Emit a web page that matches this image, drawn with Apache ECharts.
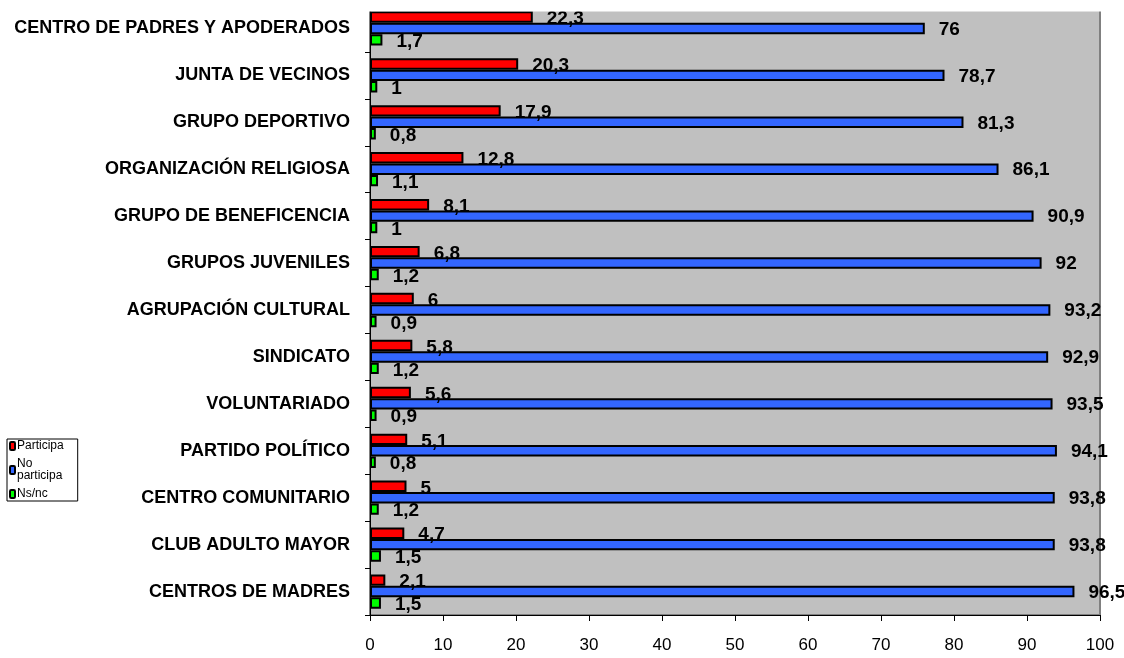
<!DOCTYPE html>
<html>
<head>
<meta charset="utf-8">
<script src="https://cdn.jsdelivr.net/npm/echarts@6/dist/echarts.min.js"></script>
<style>
  html, body { margin: 0; padding: 0; background: #fff; }
  #chart { width: 1124px; height: 658px; }
</style>
</head>
<body>
<div id="chart"></div>
<script>
var categories = [
  'CENTRO DE PADRES Y APODERADOS', 'JUNTA DE VECINOS', 'GRUPO DEPORTIVO',
  'ORGANIZACIÓN RELIGIOSA', 'GRUPO DE BENEFICENCIA', 'GRUPOS JUVENILES',
  'AGRUPACIÓN CULTURAL', 'SINDICATO', 'VOLUNTARIADO', 'PARTIDO POLÍTICO',
  'CENTRO COMUNITARIO', 'CLUB ADULTO MAYOR', 'CENTROS DE MADRES'
];
var participa = [22.3, 20.3, 17.9, 12.8, 8.1, 6.8, 6, 5.8, 5.6, 5.1, 5, 4.7, 2.1];
var noParticipa = [76, 78.7, 81.3, 86.1, 90.9, 92, 93.2, 92.9, 93.5, 94.1, 93.8, 93.8, 96.5];
var nsnc = [1.7, 1, 0.8, 1.1, 1, 1.2, 0.9, 1.2, 0.9, 0.8, 1.2, 1.5, 1.5];
var xTicks = [0, 100, 10]; // min, max, interval

var chart = echarts.init(document.getElementById('chart'));

function barLabel(dy) {
  return {
    show: true,
    position: 'right',
    distance: 14,
    offset: [0, dy],
    color: '#000',
    fontFamily: 'Liberation Sans',
    fontWeight: 'bold',
    fontSize: 19,
    formatter: function (p) { return String(p.value).replace('.', ','); }
  };
}

function makeSeries(name, data, color, dy) {
  return {
    name: name,
    type: 'bar',
    data: data,
    barGap: '0%',
    barCategoryGap: '27%',
    itemStyle: { color: color, borderColor: '#000', borderWidth: 2 },
    label: barLabel(dy)
  };
}

chart.setOption({
  animation: false,
  textStyle: { fontFamily: 'Liberation Sans' },
  grid: {
    left: 370, right: 24, top: 5, bottom: 43,
    show: true,
    backgroundColor: '#c0c0c0',
    borderColor: '#808080',
    borderWidth: 2
  },
  // the top category band runs past the plot frame; mask it like the original
  graphic: [{
    type: 'rect',
    z: 100,
    shape: { x: 355, y: 0, width: 760, height: 11.5 },
    style: { fill: '#fff' }
  }],
  legend: {
    orient: 'vertical',
    left: 7,
    top: 439,
    itemWidth: 5,
    itemHeight: 8,
    itemGap: 6,
    padding: [1, 14, 1, 2],
    borderColor: '#000',
    borderWidth: 1,
    textStyle: { fontSize: 12, lineHeight: 12, color: '#000', padding: [0, 0, 0, -3] },
    formatter: function (n) { return n === 'No participa' ? 'No\nparticipa' : n; },
    data: ['Participa', 'No participa', 'Ns/nc']
  },
  xAxis: {
    type: 'value',
    min: xTicks[0],
    max: xTicks[1],
    interval: xTicks[2],
    splitLine: { show: false },
    axisLine: { show: true, lineStyle: { color: '#000' } },
    axisTick: { show: true, length: 6, lineStyle: { color: '#000' } },
    axisLabel: { color: '#000', fontSize: 17, margin: 22 }
  },
  yAxis: {
    type: 'category',
    inverse: true,
    data: categories,
    axisLine: { show: true, lineStyle: { color: '#000' } },
    axisTick: { show: true, length: 5, lineStyle: { color: '#000' } },
    axisLabel: { color: '#000', fontSize: 18, fontWeight: 'bold', margin: 20 }
  },
  series: [
    makeSeries('Participa', participa, '#ff0000', 2),
    makeSeries('No participa', noParticipa, '#3366ff', 1),
    makeSeries('Ns/nc', nsnc, '#00ff00', 2)
  ]
});
</script>
</body>
</html>
